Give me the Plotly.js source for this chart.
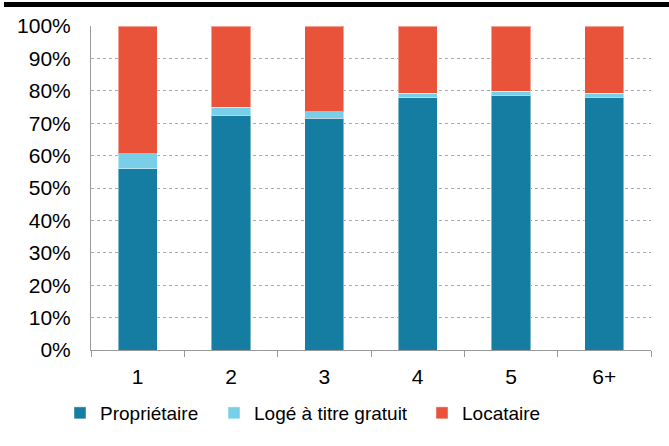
<!DOCTYPE html>
<html><head><meta charset="utf-8">
<script src="https://cdn.plot.ly/plotly-3.0.1.min.js"></script>
<style>html,body{margin:0;padding:0;background:#fff}#bar{position:absolute;left:4px;right:0;top:2px;height:5px;background:#000}</style>
</head><body>
<div id="bar"></div>
<div id="chart" style="width:669px;height:446px"></div>
<script>
var categories = ['1', '2', '3', '4', '5', '6+'];
var proprietaire = [55.9, 72.5, 71.6, 77.8, 78.7, 78.0];
var loge = [4.6, 2.5, 1.9, 1.4, 1.2, 1.2];
var locataire = [39.5, 25.0, 26.5, 20.8, 20.1, 20.8];

var line = {color: 'rgba(255,255,255,0.45)', width: 1};
var traces = [
  {type: 'bar', name: 'Propriétaire', x: categories, y: proprietaire, marker: {color: '#167da2', line: line}, legend: 'legend'},
  {type: 'bar', name: 'Logé à titre gratuit', x: categories, y: loge, marker: {color: '#79cfe8', line: line}, legend: 'legend2'},
  {type: 'bar', name: 'Locataire', x: categories, y: locataire, marker: {color: '#e8533a', line: line}, legend: 'legend3'}
];
function leg(px) {
  return {orientation: 'h', xref: 'container', yref: 'container', x: px / 669, xanchor: 'left',
          y: (446 - 413) / 446, yanchor: 'middle', font: {size: 19}, itemwidth: 30,
          bgcolor: 'rgba(0,0,0,0)', borderwidth: 0};
}
var layout = {
  barmode: 'stack',
  bargap: 0.58,
  width: 669, height: 446,
  margin: {l: 91, r: 18, t: 26, b: 96},
  paper_bgcolor: 'rgba(0,0,0,0)', plot_bgcolor: '#fff',
  font: {family: 'Liberation Sans, Arial, sans-serif', size: 21, color: '#000'},
  xaxis: {type: 'category', tickson: 'boundaries', ticks: 'outside', ticklen: 6, tickcolor: '#999',
          showline: true, linecolor: '#999', linewidth: 1, showgrid: false, tickfont: {size: 21},
          ticklabelstandoff: 8},
  yaxis: {range: [0, 100], dtick: 10, ticksuffix: '%', showgrid: true, gridcolor: '#aaa', griddash: 'dot',
          gridwidth: 1, showline: true, linecolor: '#999', linewidth: 1, ticks: '', ticklabelstandoff: 15,
          zeroline: false, tickfont: {size: 21}},
  showlegend: true,
  legend: leg(60),
  legend2: leg(214),
  legend3: leg(422)
};
Plotly.newPlot('chart', traces, layout, {displayModeBar: false, staticPlot: true});
</script>
</body></html>
